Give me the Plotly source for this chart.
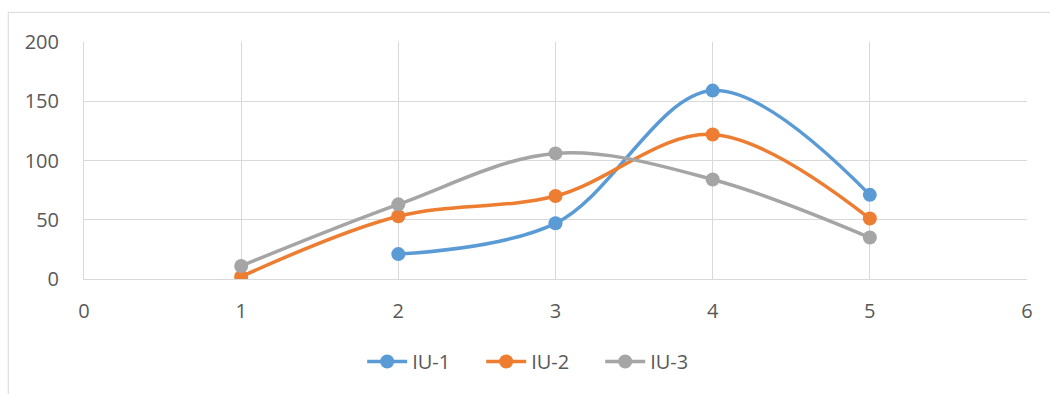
import plotly.graph_objects as go

# Series data
iu1_x = [2, 3, 4, 5]
iu1_y = [21, 47, 159, 71]
iu2_x = [1, 2, 3, 4, 5]
iu2_y = [2, 53, 70, 122, 51]
iu3_x = [1, 2, 3, 4, 5]
iu3_y = [11, 63, 106, 84, 35]

series = [
    ("IU-1", iu1_x, iu1_y, "#5B9BD5"),
    ("IU-2", iu2_x, iu2_y, "#ED7D31"),
    ("IU-3", iu3_x, iu3_y, "#A5A5A5"),
]

fig = go.Figure()
for name, xs, ys, color in series:
    fig.add_trace(go.Scatter(
        x=xs, y=ys, name=name, mode="lines+markers",
        line=dict(color=color, width=3.5, shape="spline", smoothing=1.0),
        marker=dict(color=color, size=14),
    ))

grid = "#D9D9D9"
font_color = "#595959"
font_family = "Open Sans, Liberation Sans, sans-serif"

fig.update_layout(
    width=1050, height=394,
    margin=dict(l=84, r=23, t=42, b=115),
    paper_bgcolor="white", plot_bgcolor="white",
    font=dict(family=font_family, size=20, color=font_color),
    showlegend=True,
    legend=dict(orientation="h", x=0.295, xanchor="left", y=-0.348,
                yanchor="middle", font=dict(size=20, color=font_color),
                itemwidth=40, entrywidth=64, entrywidthmode="pixels"),
    xaxis=dict(range=[0, 6], tickvals=[0, 1, 2, 3, 4, 5, 6],
               showgrid=True, gridcolor=grid, gridwidth=1,
               showline=True, linecolor=grid, linewidth=1,
               zeroline=False, ticks="", ticklabelstandoff=14),
    yaxis=dict(range=[0, 200], tickvals=[0, 50, 100, 150, 200],
               showgrid=True, gridcolor=grid, gridwidth=1,
               showline=True, linecolor=grid, linewidth=1,
               zeroline=False, ticks="", ticklabelstandoff=20),
    shapes=[
        # outer chart frame
        dict(type="rect", xref="paper", yref="paper",
             x0=-0.0803, x1=1.05, y0=-0.6, y1=1.125,
             line=dict(color="#D9D9D9", width=1), fillcolor="rgba(0,0,0,0)",
             layer="below"),
    ],
)

fig.write_html("out.html")
